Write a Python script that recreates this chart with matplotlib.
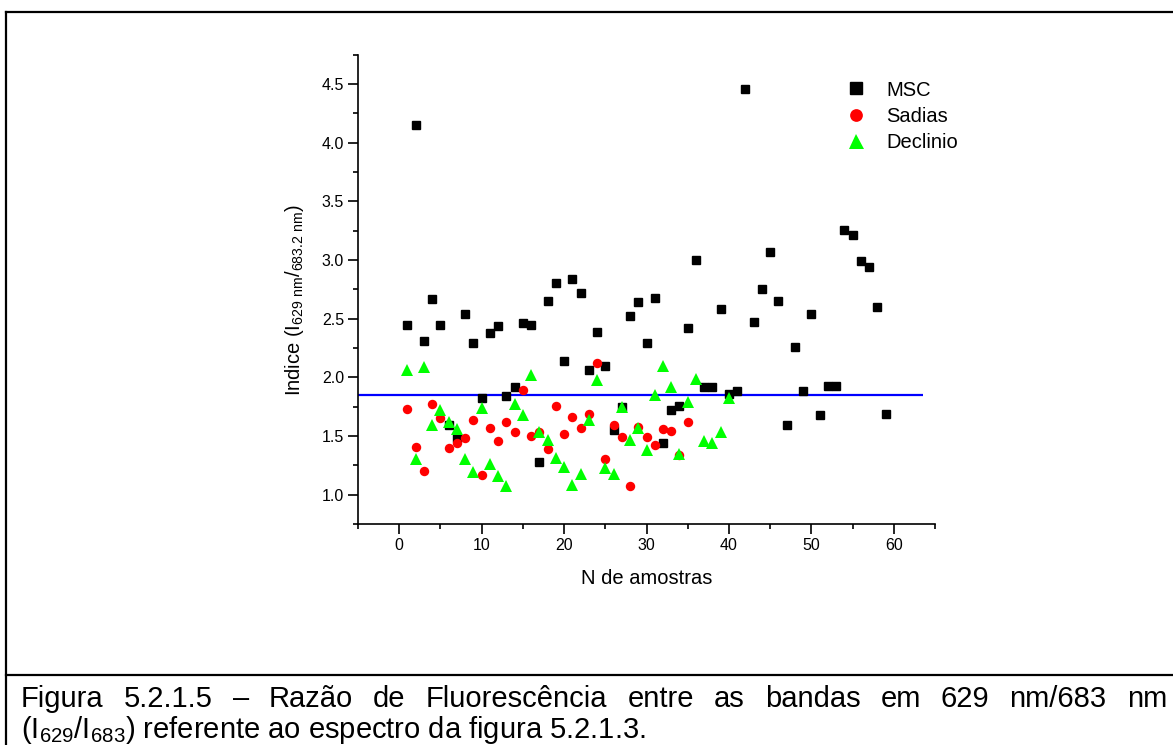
import numpy as np
import matplotlib
matplotlib.use('Agg')
import matplotlib.pyplot as plt
from matplotlib.lines import Line2D
from matplotlib.ticker import MultipleLocator, FormatStrFormatter

plt.rcParams['font.family'] = 'Liberation Sans'
plt.rcParams['mathtext.fontset'] = 'custom'
plt.rcParams['mathtext.rm'] = 'Liberation Sans'
plt.rcParams['mathtext.it'] = 'Liberation Sans:italic'
plt.rcParams['mathtext.bf'] = 'Liberation Sans:bold'

# indice I629/I683.2 per sample
msc = [2.45, 4.15, 2.31, 2.67, 2.45, 1.59, 1.48, 2.54, 2.29, 1.82,
       2.38, 2.44, 1.84, 1.92, 2.46, 2.45, 1.28, 2.65, 2.80, 2.14,
       2.84, 2.72, 2.06, 2.39, 2.10, 1.55, 1.75, 2.52, 2.64, 2.29,
       2.68, 1.44, 1.72, 1.76, 2.42, 3.00, 1.92, 1.92, 2.58, 1.86,
       1.88, 4.46, 2.47, 2.75, 3.07, 2.65, 1.59, 2.26, 1.88, 2.54,
       1.68, 1.93, 1.93, 3.26, 3.21, 2.99, 2.94, 2.60, 1.69]
sadias = [1.73, 1.41, 1.20, 1.77, 1.65, 1.40, 1.44, 1.48, 1.64, 1.17,
          1.57, 1.46, 1.62, 1.53, 1.89, 1.50, 1.53, 1.39, 1.76, 1.52,
          1.66, 1.57, 1.69, 2.12, 1.30, 1.59, 1.49, 1.07, 1.58, 1.49,
          1.42, 1.56, 1.54, 1.34, 1.62]
declinio = [2.06, 1.30, 2.09, 1.59, 1.72, 1.62, 1.56, 1.30, 1.19, 1.74,
            1.26, 1.16, 1.07, 1.77, 1.68, 2.02, 1.53, 1.47, 1.31, 1.24,
            1.08, 1.18, 1.64, 1.98, 1.23, 1.18, 1.75, 1.47, 1.57, 1.38,
            1.85, 2.10, 1.92, 1.35, 1.79, 1.99, 1.46, 1.44, 1.53, 1.82]
limite = 1.853
limite_xmax = 63.5

caption1 = 'Figura 5.2.1.5 \u2013 Raz\u00e3o de Fluoresc\u00eancia entre as bandas em 629 nm/683 nm'
caption2 = '(I$_{629}$/I$_{683}$) referente ao espectro da figura 5.2.1.3.'

W, H = 1173, 745
fig = plt.figure(figsize=(W / 100, H / 100), dpi=100)

def px(x, y):
    return x / W, 1 - y / H

# axes box in pixels: left 358, right 935, top 54.7, bottom 524
ax = fig.add_axes([358 / W, 1 - 524 / H, 577 / W, 469.3 / H])

n_msc = np.arange(1, len(msc) + 1)
n_sad = np.arange(1, len(sadias) + 1)
n_dec = np.arange(1, len(declinio) + 1)

ax.hlines(limite, -5, limite_xmax, colors='#0000ff', linewidth=1.6, zorder=1)
ax.plot(n_msc, msc, 's', color='black', markersize=6, label='MSC', zorder=2)
ax.plot(n_sad, sadias, 'o', color='#ff0000', markersize=6.8, markeredgewidth=0, label='Sadias', zorder=3)
ax.plot(n_dec, declinio, '^', color='#00ff00', markersize=8, markeredgewidth=0, label='Declinio', zorder=4)

ax.set_xlim(-5, 65)
ax.set_ylim(0.75, 4.75)
ax.xaxis.set_major_locator(MultipleLocator(10))
ax.xaxis.set_minor_locator(MultipleLocator(5))
ax.yaxis.set_major_locator(MultipleLocator(0.5))
ax.yaxis.set_minor_locator(MultipleLocator(0.25))
ax.yaxis.set_major_formatter(FormatStrFormatter('%.1f'))

for s in ['top', 'right']:
    ax.spines[s].set_visible(False)
for s in ['left', 'bottom']:
    ax.spines[s].set_linewidth(1.2)
ax.tick_params(which='major', direction='out', length=7, width=1.2, labelsize=11.5, pad=3)
ax.tick_params(which='minor', direction='out', length=3.5, width=1.2)

ax.set_xlabel('N de amostras', fontsize=14.5, va='center')
ax.xaxis.set_label_coords(0.5, (524 - 578) / 469.3)
ax.set_ylabel(r'Indice (I$_{\mathrm{629\ nm}}$/$_{\mathrm{683.2\ nm}}$)', fontsize=14.5, va='center')
ax.yaxis.set_label_coords((295 - 358) / 577, (524 - 300) / 469.3)

lx, ly = px(846, 80.5)
ax.legend(loc='upper left', bbox_to_anchor=(lx, ly), bbox_transform=fig.transFigure,
          frameon=False, borderpad=0, borderaxespad=0, handlelength=1.0,
          handletextpad=1.0, labelspacing=0.36, fontsize=14.5, markerscale=1.35)

# page frame around the figure and caption
lw = 1.6
fig.add_artist(Line2D([6 / W, 1], [1 - 12 / H] * 2, color='black', linewidth=lw, transform=fig.transFigure))
fig.add_artist(Line2D([6 / W] * 2, [1 - 12 / H, 0], color='black', linewidth=lw, transform=fig.transFigure))
fig.add_artist(Line2D([6 / W, 1], [1 - 675 / H] * 2, color='black', linewidth=lw, transform=fig.transFigure))

# justified first caption line
cap_size = 21
words = caption1.split(' ')
texts = [fig.text(0, 1 - 707 / H, w, fontsize=cap_size, ha='left', va='baseline') for w in words]
fig.canvas.draw()
r = fig.canvas.get_renderer()
widths = [t.get_window_extent(r).width for t in texts]
x0, x1 = 21, 1167
gap = (x1 - x0 - sum(widths)) / (len(words) - 1)
x = x0
for t, w in zip(texts, widths):
    t.set_x(x / W)
    x += w + gap

fig.text(x0 / W, 1 - 738 / H, caption2, fontsize=cap_size, ha='left', va='baseline')

fig.savefig('out.png', dpi=100)
